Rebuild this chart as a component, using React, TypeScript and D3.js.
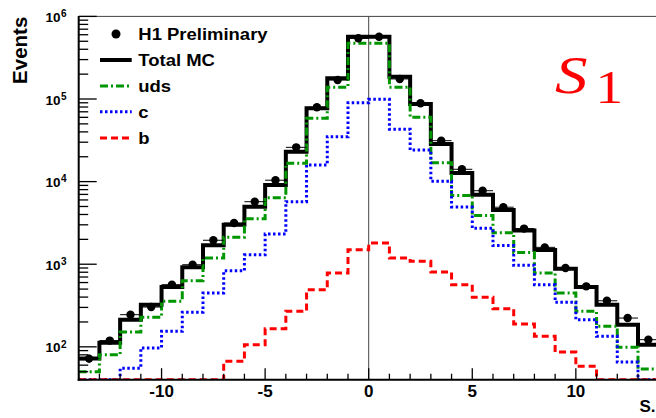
import React from 'react';
import * as d3 from 'd3';

// Bin lower edges (bin width 1)
const binLow = [-14, -13, -12, -11, -10, -9, -8, -7, -6, -5, -4, -3, -2, -1, 0, 1, 2, 3, 4, 5, 6, 7, 8, 9, 10, 11, 12, 13];

const dataH1 = [72, 119, 245, 303, 565, 986, 1950, 3155, 5710, 10400, 26000, 79400, 170000, 543000, 568000, 175000, 88700, 31300, 14100, 7760, 4900, 2700, 1600, 900, 540, 361, 223, 122];
const totalMC = [72, 112, 213, 323, 530, 916, 1693, 3006, 4970, 9100, 23000, 77100, 178000, 568000, 568000, 186000, 87000, 28500, 12700, 6950, 4530, 2560, 1490, 883, 530, 323, 185, 106];
const udsMC = [50, 80, 151, 228, 356, 631, 1190, 2120, 3560, 6380, 16700, 58400, 139000, 472000, 472000, 139000, 60000, 16900, 6800, 3880, 2400, 1385, 782, 448, 269, 177, 99, 54];
const cMC = [0, 0, 55, 97, 154, 263, 448, 834, 1300, 2320, 5710, 15900, 35000, 90200, 99100, 43000, 24100, 10100, 4930, 2730, 1680, 970, 565, 346, 213, 134, 65.5, 0];
const bMC = [0, 0, 0, 0, 0, 0, 0, 66.7, 106, 166, 269, 491, 782, 1500, 1806, 1190, 1084, 805, 565, 397, 289, 189, 134, 86.5, 58, 0, 0, 0];

const xDomain = [-14, 14];
const yDomain = [40, 1e6];
const xLabelTicks = [-10, -5, 0, 5, 10];

const legendItems = [
  { label: 'H1 Preliminary', kind: 'marker' },
  { label: 'Total MC', kind: 'line', color: '#000000', width: 4, dash: '' },
  { label: 'uds', kind: 'line', color: '#009600', width: 3, dash: '8,3,2,3' },
  { label: 'c', kind: 'line', color: '#0000ff', width: 3, dash: '2.5,2.5' },
  { label: 'b', kind: 'line', color: '#ff0000', width: 3, dash: '7,4' },
];

const FONT = '"Liberation Sans", Arial, Helvetica, sans-serif';

export default function App() {
  const W = 656, H = 418;
  const X0 = 78.7, X1 = 658.7, Y0 = 16.4, Y1 = 379.7;
  const x = d3.scaleLinear().domain(xDomain).range([X0, X1]);
  const y = d3.scaleLog().domain(yDomain).range([Y1, Y0]);
  const yMin = yDomain[0];

  const stepPath = (vals: number[]) => {
    const pts: [number, number][] = vals.map((v, i) => [binLow[i], v]);
    pts.push([binLow[binLow.length - 1] + 1, vals[vals.length - 1]]);
    const line = d3
      .line<[number, number]>()
      .x((d) => x(d[0]))
      .y((d) => y(Math.max(d[1], yMin)))
      .curve(d3.curveStepAfter);
    return line(pts) || '';
  };

  const yTicks = y.ticks();
  const xTicks = x.ticks(28);

  const series = [
    { vals: totalMC, color: '#000000', width: 4, dash: '' },
    { vals: udsMC, color: '#009600', width: 3, dash: '8,3,2,3' },
    { vals: cMC, color: '#0000ff', width: 3, dash: '2.5,2.5' },
    { vals: bMC, color: '#ff0000', width: 3, dash: '7,4' },
  ];

  const legendY = [34, 60, 86, 111.7, 138];

  return (
    <div style={{ position: 'absolute', left: 0, top: 0 }}>
      <svg width={W} height={H} style={{ display: 'block', background: '#fff' }}>
        <defs>
          <clipPath id="plotclip">
            <rect x={X0} y={Y0} width={X1 - X0} height={Y1 - Y0} />
          </clipPath>
        </defs>
        <rect x={0} y={0} width={W} height={H} fill="#fff" />

        {/* vertical line at 0 */}
        <line x1={x(0)} x2={x(0)} y1={Y0} y2={Y1} stroke="#444" strokeWidth={1} />

        {/* histograms */}
        <g clipPath="url(#plotclip)">
          {series.map((s, i) => (
            <path
              key={i}
              d={stepPath(s.vals)}
              fill="none"
              stroke={s.color}
              strokeWidth={s.width}
              strokeDasharray={s.dash || undefined}
              strokeLinejoin="miter"
            />
          ))}
          {/* data points */}
          {dataH1.map((v, i) => {
            const cx = x(binLow[i] + 0.5);
            const cy = y(v);
            const e = Math.sqrt(v);
            return (
              <g key={i}>
                <line x1={x(binLow[i])} x2={x(binLow[i] + 1)} y1={cy} y2={cy} stroke="#000" strokeWidth={1} />
                <line x1={cx} x2={cx} y1={y(v + e)} y2={y(Math.max(v - e, yMin))} stroke="#000" strokeWidth={1} />
                <circle cx={cx} cy={cy} r={4.2} fill="#000" />
              </g>
            );
          })}
        </g>

        {/* frame top */}
        <line x1={X0} x2={X1} y1={Y0} y2={Y0} stroke="#444" strokeWidth={1} />

        {/* y axis */}
        <line x1={X0} x2={X0} y1={Y0 - 0.5} y2={Y1 + 1} stroke="#000" strokeWidth={2} />
        {yTicks.map((t, i) => {
          const lg = Math.log10(t);
          const major = Math.abs(lg - Math.round(lg)) < 1e-9;
          return (
            <line key={i} x1={X0} x2={X0 + (major ? 18 : 9.5)} y1={y(t)} y2={y(t)} stroke="#000" strokeWidth={1.3} />
          );
        })}
        {yTicks
          .filter((t) => Math.abs(Math.log10(t) - Math.round(Math.log10(t))) < 1e-9)
          .map((t, i) => {
            const ty = y(t);
            return (
              <g key={i} fontFamily={FONT} fontWeight="bold" fill="#000">
                <text x={60.5} y={ty + 5.5} fontSize={13.5} textAnchor="end">10</text>
                <text x={61} y={ty + 0.8} fontSize={10}>{Math.round(Math.log10(t))}</text>
              </g>
            );
          })}

        {/* x axis */}
        <line x1={X0 - 1} x2={X1} y1={Y1} y2={Y1} stroke="#000" strokeWidth={2} />
        {xTicks.map((t, i) => {
          const major = t % 5 === 0;
          return (
            <line key={i} x1={x(t)} x2={x(t)} y1={Y1} y2={Y1 - (major ? 11.5 : 6)} stroke="#000" strokeWidth={1.3} />
          );
        })}
        {xLabelTicks.map((t, i) => (
          <text key={i} x={x(t)} y={396.5} fontSize={17} fontFamily={FONT} fontWeight="bold" textAnchor="middle">
            {t < 0 ? `-${Math.abs(t)}` : `${t}`}
          </text>
        ))}
        <text x={639.5} y={411.5} fontSize={17} fontFamily={FONT} fontWeight="bold">S.</text>

        {/* y title */}
        <text
          transform="translate(26.7,16.7) rotate(-90)"
          fontSize={20.5}
          fontFamily={FONT}
          fontWeight="bold"
          textAnchor="end"
        >
          Events
        </text>

        {/* legend */}
        {legendItems.map((it, i) => {
          const ly = legendY[i];
          return (
            <g key={i}>
              {it.kind === 'marker' ? (
                <circle cx={116} cy={ly} r={4.5} fill="#000" />
              ) : (
                <line x1={100} x2={131.7} y1={ly} y2={ly} stroke={it.color} strokeWidth={it.width} strokeDasharray={it.dash || undefined} />
              )}
              <text
                transform={`translate(138.3,${ly + 6}) scale(1.1,1)`}
                fontSize={16.8}
                fontFamily={FONT}
                fontWeight="bold"
              >
                {it.label}
              </text>
            </g>
          );
        })}

        {/* S1 label */}
        <g fill="#ff0000" fontFamily='"Liberation Serif", "Times New Roman", serif'>
          <text transform="translate(555,93.3) scale(1.25,1)" fontSize={52} fontStyle="italic">S</text>
          <text transform="translate(595.5,103.3) scale(1.2,1)" fontSize={46}>1</text>
        </g>
      </svg>
    </div>
  );
}
